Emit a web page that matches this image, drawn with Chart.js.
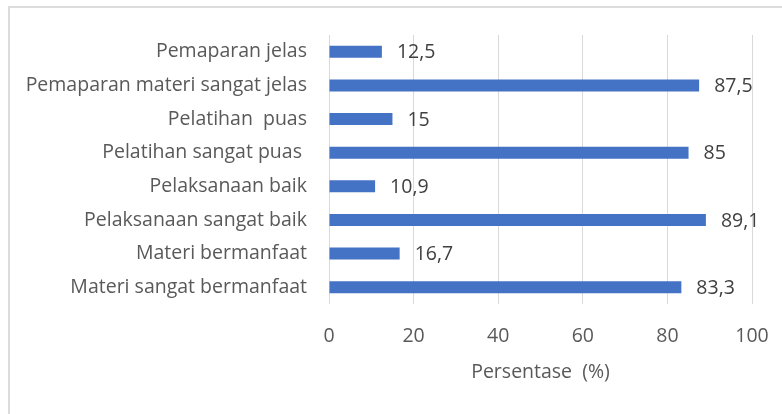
<!DOCTYPE html>
<html>
<head>
<meta charset="utf-8">
<script src="https://cdn.jsdelivr.net/npm/chart.js@4.4.0/dist/chart.umd.min.js"></script>
<style>
    html, body { margin: 0; padding: 0; background: #fff; }
    #frame {
        position: absolute; left: 8px; top: 6px; width: 800px; height: 420px;
        border-left: 2px solid #dcdcdc; border-top: 2px solid #dcdcdc;
    }
    #wrap { position: absolute; left: 0; top: 0; width: 782px; height: 414px; }
</style>
</head>
<body>
<div id="frame"></div>
<div id="wrap"><canvas id="surveyChart" width="782" height="414"></canvas></div>
<script>
// Categories, top to bottom as in the picture
const categories = [
    'Pemaparan jelas',
    'Pemaparan materi sangat jelas',
    'Pelatihan  puas',
    'Pelatihan sangat puas ',
    'Pelaksanaan baik',
    'Pelaksanaan sangat baik',
    'Materi bermanfaat',
    'Materi sangat bermanfaat'
];
const percentages = [12.5, 87.5, 15, 85, 10.9, 89.1, 16.7, 83.3];
const xTicks = [0, 20, 40, 60, 80, 100];

const FONT = "'Open Sans', sans-serif";

// Draws the value next to each bar (comma decimals like the original)
const valueLabels = {
    id: 'valueLabels',
    afterDatasetsDraw(chart) {
        const ctx = chart.ctx;
        const meta = chart.getDatasetMeta(0);
        ctx.save();
        ctx.font = `19.5px ${FONT}`;
        ctx.fillStyle = '#404040';
        ctx.textAlign = 'left';
        ctx.textBaseline = 'middle';
        meta.data.forEach((bar, i) => {
            const text = String(percentages[i]).replace('.', ',');
            ctx.fillText(text, bar.x + 15, bar.y + 1);
        });
        ctx.restore();
    }
};

document.addEventListener('DOMContentLoaded', function () {
    const ctx = document.getElementById('surveyChart').getContext('2d');
    new Chart(ctx, {
        type: 'bar',
        data: {
            labels: categories,
            datasets: [{
                data: percentages,
                backgroundColor: '#4472C4',
                borderWidth: 0,
                categoryPercentage: 1,
                barPercentage: 0.36
            }]
        },
        options: {
            indexAxis: 'y',
            responsive: false,
            animation: false,
            layout: { padding: { left: 0, right: 30, top: 35, bottom: 0 } },
            plugins: {
                legend: { display: false },
                tooltip: { enabled: false }
            },
            scales: {
                x: {
                    min: 0,
                    max: 100,
                    afterBuildTicks: scale => { scale.ticks = xTicks.map(v => ({ value: v })); },
                    afterFit: scale => {
                        scale.height = 110;
                        scale.paddingLeft = 0;
                        scale.paddingRight = 0;
                    },
                    grid: { color: '#d9d9d9', lineWidth: 1, drawTicks: false },
                    border: { display: false },
                    ticks: {
                        color: '#595959',
                        font: { family: FONT, size: 19.5 },
                        padding: 21,
                        maxRotation: 0
                    },
                    title: {
                        display: true,
                        text: 'Persentase  (%)',
                        color: '#595959',
                        font: { family: FONT, size: 19.5 },
                        padding: { top: 0, bottom: 30 }
                    }
                },
                y: {
                    afterFit: scale => {
                        scale.width = 329;
                        scale.paddingTop = 0;
                        scale.paddingBottom = 0;
                    },
                    grid: { display: false, drawTicks: false },
                    border: { display: false },
                    ticks: {
                        color: '#595959',
                        font: { family: FONT, size: 19.5 },
                        padding: 22,
                        autoSkip: false
                    }
                }
            }
        },
        plugins: [valueLabels]
    });
});
</script>
</body>
</html>
